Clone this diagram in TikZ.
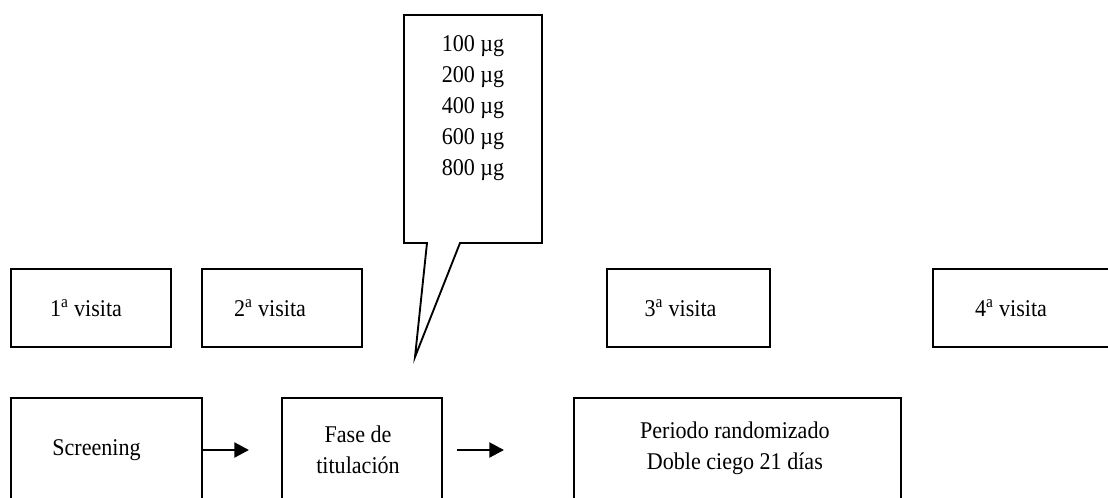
\documentclass[tikz,border=0pt]{standalone}
\usepackage{fontspec}
\setmainfont[FakeStretch=0.92]{Liberation Serif}
\usetikzlibrary{arrows.meta}
\begin{document}
\begin{tikzpicture}[x=0.75pt,y=-0.75pt,
  every node/.style={font=\fontsize{18}{23}\selectfont},
  box/.style={draw=black, line width=1.4pt, inner sep=0pt},
  vbox/.style={box, minimum width=120pt, minimum height=58.5pt},
  pbox/.style={box, minimum height=91.5pt},
  arr/.style={line width=2.2pt, -{Triangle[length=11pt,width=11pt]}},
  txt/.style={align=center, inner sep=0pt}
]
\useasboundingbox (0,0) rectangle (1108,497);
\clip (0,0) rectangle (1108,497);
\fill[white] (0,0) rectangle (1108,497);

% visit boxes
\node[vbox, label={[txt,xshift=-3.75pt]center:1\textsuperscript{a} visita}] (v1) at (91,308) {};
\node[vbox, label={[txt,xshift=-9pt]center:2\textsuperscript{a} visita}] (v2) at (282,308) {};
\node[vbox, minimum width=122.25pt, label={[txt,xshift=-6pt]center:3\textsuperscript{a} visita}] (v3) at (688.5,308) {};
\node[vbox, minimum width=135pt, label={[txt,xshift=-9pt]center:4\textsuperscript{a} visita}] (v4) at (1023,308) {};

% phase boxes
\node[pbox, minimum width=143.25pt, label={[txt,xshift=-7.5pt,yshift=6.75pt]center:Screening}] (scr) at (106.5,459) {};
\node[pbox, minimum width=120pt, label={[txt,xshift=-3pt,yshift=6.75pt]center:Fase de\\titulación}] (fase) at (362,459) {};
\node[pbox, minimum width=245.25pt, label={[txt,xshift=-2pt,yshift=8.25pt]center:Periodo randomizado\\Doble ciego 21 días}] (per) at (737.5,459) {};

% arrows
\coordinate (a1) at (scr.east |- 0,450);
\coordinate (a2) at (fase.west |- 0,450);
\coordinate (a3) at (fase.east |- 0,450);
\coordinate (a4) at (per.west |- 0,450);
\draw[arr, shorten >=24pt] (a1) -- (a2);
\draw[arr, shorten <=10.5pt, shorten >=51.75pt] (a3) -- (a4);

% callout
\draw[line width=1.4pt, line join=miter]
  (404,15) -- (542,15) -- (542,243) -- (460,243) -- (415,357) -- (427,243) -- (404,243) -- cycle;
\node[txt, anchor=north, font=\fontsize{18}{23.25}\selectfont] (doses) at (473,35)
  {100 µg\\200 µg\\400 µg\\600 µg\\800 µg};
\end{tikzpicture}
\end{document}
